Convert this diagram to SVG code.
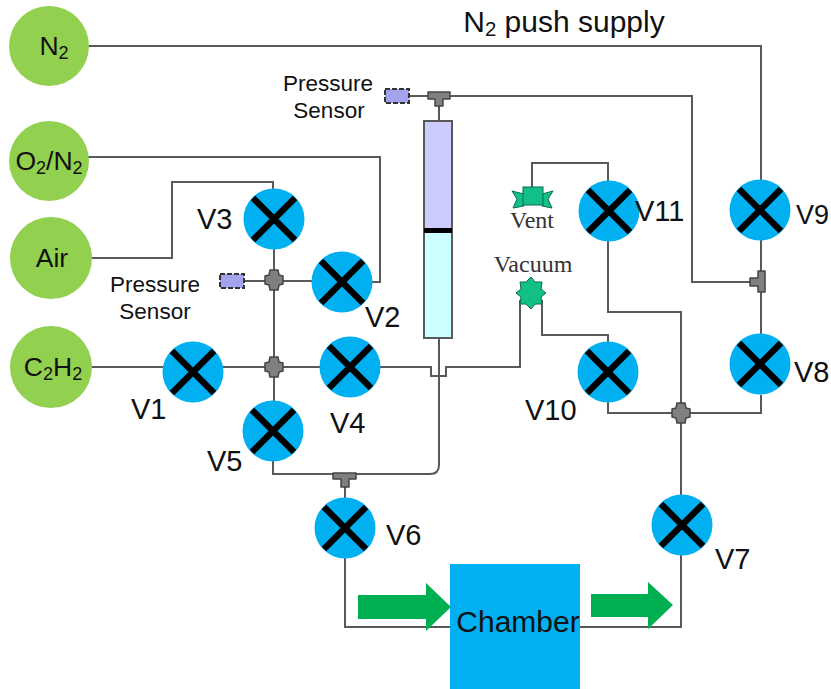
<svg xmlns="http://www.w3.org/2000/svg" width="831" height="689" viewBox="0 0 831 689">
<style>
text{font-family:"Liberation Sans",Arial,sans-serif;fill:#111}
.pipe{fill:none;stroke:#595959;stroke-width:2}
.src{fill:#92d050}
.srct{font-size:26.5px;text-anchor:middle}
.vc{fill:#00b0f0}
.vx{stroke:#000;stroke-width:6.5;fill:none}
.vl{font-size:29px}
.lab{font-size:22.5px;text-anchor:middle}
.ser{font-family:"Liberation Serif",serif;font-size:24px;text-anchor:middle;fill:#333}
.fit{fill:#808080;stroke:#444;stroke-width:1.5;stroke-linejoin:round}
.sensor{fill:#a3a3ee;stroke:#333;stroke-width:2;stroke-dasharray:5 2}
.green{fill:#00b050}
.teal{fill:#12bf86;stroke:#0b6b50;stroke-width:1}
.sub{font-size:68%;baseline-shift:-4px}
</style>
<defs>
<g id="valve"><circle class="vc" r="30.5"/><path class="vx" d="M-21-21L21 21M21-21L-21 21"/></g>
<path id="cross" d="M-4-10H4L5-5L9-4V4L5 5L4 10H-4L-5 5L-9 4V-4L-5-5Z"/>
</defs>
<g id="connectors">
<path class="pipe" d="M88 46H761V180"/>
<path class="pipe" d="M88 157H380V282H370"/>
<path class="pipe" d="M88 258H172V182H273V190"/>
<path class="pipe" d="M88 367H164"/>
<path class="pipe" d="M222 367H320"/>
<path class="pipe" d="M245 281H313"/>
<path class="pipe" d="M274 248V402"/>
<path class="pipe" d="M273 460V474H430Q439 474 439 465V338"/>
<path class="pipe" d="M345 474V498"/>
<path class="pipe" d="M345 558V627H450"/>
<path class="pipe" d="M380 367H431V376H446V367H520V300"/>
<path class="pipe" d="M410 96H692V282H752"/>
<path class="pipe" d="M439 96V122"/>
<path class="pipe" d="M532 190V163H608V182"/>
<path class="pipe" d="M542 300V335H608V342"/>
<path class="pipe" d="M608 240V312H681V495"/>
<path class="pipe" d="M608 402V413H761V395"/>
<path class="pipe" d="M761 240V335"/>
<path class="pipe" d="M681 555V627H580"/>
</g>
<g id="n2"><circle class="src" cx="49" cy="46" r="40"/><text class="srct" x="54" y="55">N<tspan class="sub">2</tspan></text></g>
<g id="o2n2"><circle class="src" cx="49" cy="161" r="40"/><text class="srct" x="49" y="170">O<tspan class="sub">2</tspan>/N<tspan class="sub">2</tspan></text></g>
<g id="air"><circle class="src" cx="51" cy="258" r="41"/><text class="srct" x="52" y="267">Air</text></g>
<g id="c2h2"><circle class="src" cx="51" cy="367" r="41"/><text class="srct" x="53" y="376">C<tspan class="sub">2</tspan>H<tspan class="sub">2</tspan></text></g>
<g id="v1"><use href="#valve" x="193" y="372"/><text class="vl" x="131" y="419">V1</text></g>
<g id="v2"><use href="#valve" x="342" y="282"/><text class="vl" x="365" y="327">V2</text></g>
<g id="v3"><use href="#valve" x="274" y="219"/><text class="vl" x="197" y="229">V3</text></g>
<g id="v4"><use href="#valve" x="350" y="367"/><text class="vl" x="330" y="433">V4</text></g>
<g id="v5"><use href="#valve" x="273" y="431"/><text class="vl" x="207" y="471">V5</text></g>
<g id="v6"><use href="#valve" x="345" y="528"/><text class="vl" x="386" y="545">V6</text></g>
<g id="v7"><use href="#valve" x="682" y="525"/><text class="vl" x="715" y="569">V7</text></g>
<g id="v8"><use href="#valve" x="760" y="364"/><text class="vl" x="794" y="382">V8</text></g>
<g id="v9"><use href="#valve" x="760" y="210"/><text class="vl" x="796" y="224" font-size="28" style="font-size:27px">V9</text></g>
<g id="v10"><use href="#valve" x="608" y="372"/><text class="vl" x="525" y="420">V10</text></g>
<g id="v11"><use href="#valve" x="609" y="211"/><text class="vl" x="635" y="221">V11</text></g>
<g id="fit-a"><use href="#cross" class="fit" x="274" y="280"/></g>
<g id="fit-b"><use href="#cross" class="fit" x="274" y="367"/></g>
<g id="fit-c"><use href="#cross" class="fit" x="681" y="413"/></g>
<g id="tee-top"><path class="fit" d="M428 92H450V99H443V106H435V99H428Z"/></g>
<g id="tee-mid"><path class="fit" d="M333 473H356V479H349V487H341V479H333Z"/></g>
<g id="tee-right"><path class="fit" d="M758 271H765V292H758V286H750V278H758Z"/></g>
<g id="sensor-top"><rect class="sensor" x="385" y="89" width="24" height="14"/><text class="lab" x="328" y="91">Pressure</text><text class="lab" x="329" y="118">Sensor</text></g>
<g id="sensor-left"><rect class="sensor" x="220" y="274" width="24" height="14"/><text class="lab" x="155" y="292">Pressure</text><text class="lab" x="155" y="319">Sensor</text></g>
<g id="syringe">
<rect x="424" y="121" width="28" height="108" fill="#ccccff"/>
<rect x="424" y="233" width="28" height="105" fill="#ccffff"/>
<rect x="424" y="121" width="28" height="217" fill="none" stroke="#595959" stroke-width="2"/>
<rect x="424" y="228" width="28" height="5" fill="#000"/>
</g>
<g id="vent"><path class="teal" d="M512 191L524 194V206L513 208L517 199Z"/><path class="teal" d="M553 191L542 194V206L552 208L548 199Z"/><rect class="teal" x="523" y="187" width="20" height="18"/><text class="ser" x="532" y="228">Vent</text></g>
<g id="vacuum"><path class="teal" d="M531 277L535 282L542 282L541 289L546 293L541 297L542 304L535 304L531 309L526 304L520 304L521 297L516 293L521 289L520 282L526 282Z"/><text class="ser" x="533" y="272">Vacuum</text></g>
<g id="chamber"><rect x="450" y="564" width="130" height="125" fill="#00b0f0"/><text x="518" y="632" font-size="30" text-anchor="middle">Chamber</text></g>
<g id="arrows">
<path class="green" d="M358 595H426V583L451 607L426 631V619H358Z"/>
<path class="green" d="M591 594H648V582L673 605L648 629V617H591Z"/>
</g>
<text x="564" y="32" font-size="30" text-anchor="middle">N<tspan class="sub">2</tspan> push supply</text>
</svg>
